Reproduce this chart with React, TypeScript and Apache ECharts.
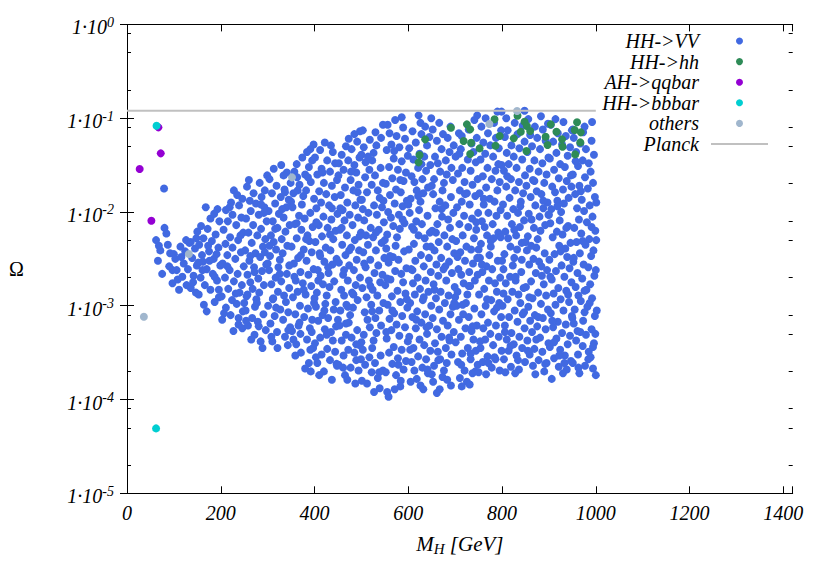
import React, { useEffect, useRef } from "react";
import * as echarts from "echarts";

// Axis ranges
const massMin = 0;
const massMax = 1420;
const massTickStep = 200;
const omegaMin = 1e-5;
const omegaMax = 1;
const omegaMinorTicks = [
  2e-5, 5e-5, 8e-5, 2e-4, 5e-4, 8e-4, 2e-3, 5e-3, 8e-3, 2e-2, 5e-2, 8e-2, 2e-1, 5e-1, 8e-1,
];

// Planck relic density line
const planckOmega = 0.1199;
const planckMassRange = [0, 1000];

// Points: [M_H in GeV, log10(Omega)]
const hhToVV: [number, number][] = [
  [62,-2.30],[66,-2.52],[71,-2.41],[75,-2.66],[79,-1.75],[80,-2.17],[84,-2.23],[87,-2.35],[92,-2.44],[97,-2.62],[97,-2.76],[100,-2.45],[90,-2.58],[68,-2.36],
  [103,-2.50],[108,-2.72],[111,-2.83],[114,-2.37],[118,-2.69],[121,-2.55],[124,-2.42],[127,-2.78],[130,-2.61],[133,-2.33],[136,-2.32],[136,-2.81],[139,-2.49],[142,-2.68],[145,-2.39],[147,-2.86],[149,-2.57],[106,-2.62],[116,-2.48],[126,-2.30],[141,-2.75],[148,-2.28],
  [168,-1.95],[193,-1.97],[178,-2.07],[186,-2.02],[158,-2.15],[197,-2.10],[172,-2.18],[150,-2.21],[189,-2.24],[163,-2.28],[181,-2.31],[154,-2.35],[195,-2.38],[175,-2.42],[160,-2.46],[185,-2.50],[152,-2.54],[199,-2.57],[170,-2.61],[183,-2.66],[157,-2.70],[192,-2.73],[166,-2.78],[178,-2.83],[153,-2.88],[196,-2.91],[164,-2.99],[170,-3.06],[187,-2.96],[176,-2.52],[161,-2.62],[191,-2.45],
  [228,-1.77],[235,-1.82],[246,-1.86],[222,-1.90],[239,-1.93],[211,-1.98],[225,-2.03],[244,-2.06],[215,-2.10],[233,-2.14],[206,-2.19],[248,-2.22],[220,-2.27],[237,-2.30],[210,-2.34],[225,-2.38],[243,-2.43],[214,-2.46],[231,-2.50],[204,-2.55],[249,-2.58],[219,-2.62],[236,-2.66],[209,-2.70],[228,-2.74],[245,-2.78],[216,-2.82],[240,-2.86],[202,-2.90],[224,-2.94],[234,-2.98],[211,-3.02],[247,-3.06],[221,-3.10],[203,-3.15],[238,-3.20],[227,-3.27],[246,-3.24],
  [299,-1.61],[260,-1.66],[283,-1.69],[256,-1.73],[294,-1.77],[270,-1.80],[287,-1.84],[262,-1.88],[275,-1.91],[293,-1.95],[264,-1.99],[281,-2.03],[254,-2.07],[298,-2.10],[269,-2.14],[286,-2.18],[259,-2.22],[278,-2.25],[295,-2.29],[266,-2.33],[290,-2.37],[252,-2.41],[274,-2.44],[284,-2.48],[261,-2.52],[297,-2.56],[271,-2.59],[288,-2.63],[257,-2.67],[280,-2.71],[263,-2.75],[292,-2.78],[268,-2.82],[282,-2.86],[255,-2.90],[276,-2.93],[250,-2.97],[273,-3.01],[253,-3.05],[291,-3.09],[267,-3.13],[279,-3.17],[258,-3.21],[296,-3.26],[272,-3.31],[285,-3.38],[289,-3.45],[265,-3.36],
  [329,-1.50],[313,-1.54],[341,-1.58],[334,-1.61],[304,-1.65],[349,-1.69],[319,-1.72],[336,-1.76],[309,-1.80],[328,-1.84],[345,-1.87],[316,-1.91],[340,-1.95],[302,-1.99],[324,-2.02],[334,-2.06],[311,-2.10],[347,-2.14],[321,-2.17],[338,-2.21],[307,-2.25],[330,-2.29],[313,-2.32],[342,-2.36],[318,-2.40],[332,-2.44],[305,-2.47],[326,-2.51],[300,-2.55],[323,-2.59],[303,-2.62],[341,-2.66],[317,-2.70],[329,-2.74],[308,-2.77],[346,-2.81],[322,-2.85],[335,-2.89],[312,-2.92],[339,-2.96],[301,-3.00],[327,-3.04],[344,-3.07],[315,-3.11],[333,-3.15],[306,-3.19],[348,-3.23],[320,-3.28],[337,-3.33],[310,-3.38],[321,-3.45],[343,-3.42],
  [398,-1.28],[391,-1.33],[384,-1.36],[374,-1.42],[395,-1.45],[362,-1.49],[388,-1.52],[357,-1.57],[380,-1.60],[363,-1.63],[392,-1.68],[368,-1.71],[382,-1.77],[355,-1.80],[376,-1.83],[350,-1.89],[373,-1.92],[353,-1.95],[391,-2.01],[367,-2.04],[379,-2.07],[358,-2.13],[396,-2.16],[372,-2.19],[385,-2.25],[362,-2.28],[389,-2.31],[351,-2.37],[377,-2.40],[394,-2.43],[365,-2.49],[383,-2.52],[356,-2.55],[398,-2.61],[370,-2.64],[387,-2.67],[360,-2.73],[375,-2.76],[393,-2.79],[364,-2.85],[381,-2.88],[354,-2.91],[399,-2.97],[369,-3.00],[386,-3.03],[359,-3.09],[378,-3.12],[395,-3.15],[366,-3.21],[390,-3.24],[352,-3.27],[370,-3.30],[384,-3.36],[361,-3.41],[397,-3.45],[371,-3.50],[359,-3.53],[388,-3.61],[380,-3.67],[392,-3.70],
  [422,-1.26],[435,-1.29],[412,-1.34],[439,-1.36],[401,-1.42],[427,-1.45],[444,-1.48],[415,-1.54],[433,-1.57],[406,-1.60],[448,-1.66],[420,-1.69],[437,-1.72],[410,-1.78],[425,-1.81],[443,-1.84],[414,-1.90],[431,-1.93],[404,-1.96],[449,-2.02],[419,-2.05],[436,-2.08],[409,-2.14],[428,-2.17],[445,-2.20],[416,-2.26],[440,-2.29],[402,-2.32],[424,-2.38],[434,-2.41],[411,-2.44],[447,-2.50],[421,-2.53],[438,-2.56],[407,-2.62],[430,-2.65],[413,-2.68],[442,-2.74],[418,-2.77],[432,-2.80],[405,-2.86],[426,-2.89],[400,-2.92],[423,-2.98],[403,-3.01],[441,-3.04],[417,-3.10],[429,-3.13],[408,-3.16],[446,-3.22],[422,-3.25],[435,-3.28],[412,-3.34],[439,-3.37],[401,-3.40],[427,-3.46],[444,-3.49],[415,-3.52],[433,-3.58],[406,-3.61],[448,-3.64],[420,-3.70],[437,-3.79],[410,-3.74],
  [497,-1.14],[485,-1.17],[473,-1.22],[491,-1.25],[467,-1.30],[479,-1.33],[458,-1.39],[496,-1.42],[472,-1.45],[485,-1.50],[462,-1.55],[489,-1.58],[451,-1.61],[477,-1.66],[494,-1.71],[465,-1.74],[483,-1.77],[456,-1.82],[498,-1.87],[470,-1.90],[487,-1.93],[460,-1.98],[475,-2.03],[493,-2.06],[464,-2.09],[481,-2.14],[454,-2.19],[499,-2.22],[469,-2.25],[486,-2.30],[459,-2.35],[478,-2.38],[495,-2.41],[466,-2.46],[490,-2.51],[452,-2.54],[474,-2.57],[484,-2.62],[461,-2.67],[497,-2.70],[471,-2.73],[488,-2.78],[457,-2.83],[480,-2.86],[463,-2.89],[492,-2.94],[468,-2.99],[482,-3.02],[455,-3.05],[476,-3.10],[450,-3.15],[473,-3.18],[453,-3.21],[491,-3.26],[467,-3.31],[479,-3.34],[458,-3.37],[496,-3.42],[472,-3.47],[485,-3.50],[462,-3.53],[489,-3.58],[451,-3.63],[477,-3.66],[494,-3.69],[465,-3.74],[487,-3.83],[470,-3.79],
  [546,-1.07],[503,-1.13],[530,-1.15],[542,-1.21],[518,-1.23],[532,-1.29],[505,-1.31],[526,-1.37],[500,-1.39],[523,-1.45],[509,-1.47],[541,-1.53],[517,-1.55],[529,-1.61],[508,-1.63],[546,-1.69],[522,-1.71],[535,-1.77],[512,-1.79],[539,-1.85],[501,-1.87],[527,-1.93],[544,-1.95],[515,-2.01],[533,-2.03],[506,-2.09],[548,-2.11],[520,-2.17],[537,-2.19],[510,-2.25],[525,-2.27],[543,-2.33],[514,-2.35],[531,-2.41],[504,-2.43],[549,-2.49],[519,-2.51],[536,-2.57],[509,-2.59],[528,-2.65],[545,-2.67],[516,-2.73],[540,-2.75],[502,-2.81],[524,-2.83],[534,-2.89],[511,-2.91],[547,-2.97],[521,-2.99],[538,-3.05],[507,-3.07],[530,-3.13],[513,-3.15],[542,-3.21],[518,-3.23],[532,-3.29],[505,-3.31],[526,-3.37],[500,-3.39],[523,-3.45],[503,-3.47],[541,-3.53],[517,-3.55],[529,-3.61],[508,-3.63],[546,-3.69],[522,-3.71],[535,-3.77],[512,-3.83],[539,-3.88],[501,-3.80],[527,-3.92],
  [586,-0.99],[572,-1.02],[556,-1.07],[589,-1.10],[560,-1.16],[575,-1.19],[593,-1.22],[564,-1.28],[581,-1.31],[554,-1.34],[599,-1.40],[569,-1.43],[586,-1.46],[559,-1.52],[578,-1.55],[595,-1.58],[566,-1.64],[590,-1.67],[552,-1.70],[574,-1.76],[584,-1.79],[561,-1.82],[597,-1.88],[571,-1.91],[588,-1.94],[557,-2.00],[580,-2.03],[563,-2.06],[592,-2.12],[568,-2.15],[582,-2.18],[555,-2.24],[576,-2.27],[550,-2.30],[573,-2.36],[553,-2.39],[591,-2.42],[567,-2.48],[579,-2.51],[558,-2.54],[596,-2.60],[572,-2.63],[585,-2.66],[562,-2.72],[589,-2.75],[551,-2.78],[577,-2.84],[594,-2.87],[565,-2.90],[583,-2.96],[556,-2.99],[598,-3.02],[570,-3.08],[587,-3.11],[560,-3.14],[575,-3.20],[593,-3.23],[564,-3.26],[581,-3.32],[554,-3.35],[599,-3.38],[569,-3.44],[586,-3.47],[559,-3.50],[578,-3.56],[595,-3.59],[566,-3.62],[590,-3.68],[552,-3.71],[574,-3.74],[584,-3.80],[555,-3.92],[558,-3.97],[583,-3.86],[571,-3.89],
  [622,-0.97],[649,-1.00],[626,-1.05],[636,-1.09],[609,-1.14],[628,-1.17],[645,-1.20],[616,-1.26],[640,-1.29],[602,-1.32],[624,-1.38],[634,-1.41],[611,-1.44],[647,-1.50],[621,-1.53],[638,-1.56],[607,-1.62],[630,-1.65],[613,-1.68],[642,-1.74],[618,-1.77],[632,-1.80],[605,-1.86],[626,-1.89],[600,-1.92],[623,-1.98],[603,-2.01],[641,-2.04],[617,-2.10],[629,-2.13],[608,-2.16],[646,-2.22],[622,-2.25],[635,-2.28],[612,-2.34],[639,-2.37],[601,-2.40],[627,-2.46],[644,-2.49],[615,-2.52],[633,-2.58],[606,-2.61],[648,-2.64],[620,-2.70],[637,-2.73],[610,-2.76],[625,-2.82],[643,-2.85],[614,-2.88],[631,-2.94],[604,-2.97],[649,-3.00],[619,-3.06],[636,-3.09],[609,-3.12],[628,-3.18],[645,-3.21],[616,-3.24],[640,-3.30],[602,-3.33],[624,-3.36],[634,-3.42],[611,-3.45],[647,-3.48],[621,-3.54],[638,-3.57],[607,-3.60],[630,-3.66],[613,-3.69],[642,-3.72],[618,-3.78],[626,-3.85],[605,-3.81],[632,-3.89],
  [666,-1.05],[690,-1.09],[652,-1.12],[674,-1.17],[684,-1.21],[661,-1.24],[697,-1.29],[671,-1.33],[688,-1.36],[657,-1.41],[680,-1.45],[663,-1.48],[692,-1.53],[668,-1.57],[682,-1.60],[655,-1.65],[676,-1.69],[650,-1.72],[673,-1.77],[653,-1.81],[691,-1.84],[667,-1.89],[679,-1.93],[658,-1.96],[696,-2.01],[672,-2.05],[685,-2.08],[662,-2.13],[689,-2.17],[651,-2.20],[677,-2.25],[694,-2.29],[665,-2.32],[683,-2.37],[656,-2.41],[698,-2.44],[670,-2.49],[687,-2.53],[660,-2.56],[675,-2.61],[693,-2.65],[664,-2.68],[681,-2.73],[654,-2.77],[699,-2.80],[669,-2.85],[686,-2.89],[659,-2.92],[678,-2.97],[695,-3.01],[666,-3.04],[690,-3.09],[652,-3.13],[674,-3.16],[684,-3.21],[661,-3.25],[697,-3.28],[671,-3.33],[688,-3.37],[657,-3.40],[680,-3.45],[663,-3.49],[692,-3.52],[668,-3.57],[682,-3.61],[655,-3.64],[676,-3.69],[650,-3.73],[673,-3.76],[653,-3.81],[691,-3.85],[661,-3.93],[667,-3.89],
  [747,-0.97],[741,-1.02],[729,-1.12],[708,-1.16],[746,-1.21],[714,-1.19],[735,-1.27],[712,-1.33],[739,-1.36],[701,-1.41],[727,-1.44],[744,-1.47],[715,-1.53],[733,-1.56],[706,-1.59],[748,-1.65],[720,-1.68],[737,-1.71],[710,-1.77],[725,-1.80],[743,-1.83],[714,-1.89],[731,-1.92],[704,-1.95],[749,-2.01],[719,-2.04],[736,-2.07],[709,-2.13],[728,-2.16],[745,-2.19],[716,-2.25],[740,-2.28],[702,-2.31],[724,-2.37],[734,-2.40],[711,-2.43],[747,-2.49],[721,-2.52],[738,-2.55],[707,-2.61],[730,-2.64],[713,-2.67],[742,-2.73],[718,-2.76],[732,-2.79],[705,-2.85],[726,-2.88],[700,-2.91],[723,-2.97],[703,-3.00],[741,-3.03],[717,-3.09],[729,-3.12],[708,-3.15],[746,-3.21],[722,-3.24],[735,-3.27],[712,-3.33],[739,-3.36],[701,-3.39],[727,-3.45],[744,-3.48],[715,-3.51],[733,-3.57],[706,-3.60],[748,-3.63],[720,-3.69],[737,-3.72],[710,-3.77],[725,-3.81],[743,-3.70],[714,-3.86],[731,-3.84],
  [790,-0.93],[799,-0.93],[765,-1.00],[783,-1.05],[756,-1.09],[798,-1.13],[770,-1.16],[787,-1.21],[760,-1.26],[775,-1.29],[793,-1.32],[764,-1.38],[781,-1.41],[754,-1.44],[799,-1.50],[769,-1.53],[786,-1.56],[759,-1.62],[778,-1.65],[795,-1.68],[766,-1.74],[790,-1.77],[752,-1.80],[774,-1.86],[784,-1.89],[761,-1.92],[797,-1.98],[771,-2.01],[788,-2.04],[757,-2.10],[780,-2.13],[763,-2.16],[792,-2.22],[768,-2.25],[782,-2.28],[755,-2.34],[776,-2.37],[750,-2.40],[773,-2.46],[753,-2.49],[791,-2.52],[767,-2.58],[779,-2.61],[758,-2.64],[796,-2.70],[772,-2.73],[785,-2.76],[762,-2.82],[789,-2.85],[751,-2.88],[777,-2.94],[794,-2.97],[765,-3.00],[783,-3.06],[756,-3.09],[798,-3.12],[770,-3.18],[787,-3.21],[760,-3.24],[775,-3.30],[793,-3.33],[764,-3.36],[781,-3.42],[754,-3.45],[799,-3.48],[769,-3.54],[786,-3.57],[759,-3.60],[778,-3.66],[795,-3.69],[766,-3.73],[750,-3.71],
  [848,-0.92],[809,-1.00],[827,-1.05],[844,-1.08],[812,-1.13],[833,-1.17],[806,-1.20],[848,-1.25],[820,-1.29],[837,-1.32],[810,-1.37],[825,-1.41],[843,-1.44],[814,-1.49],[831,-1.53],[804,-1.56],[849,-1.61],[819,-1.65],[836,-1.68],[809,-1.73],[828,-1.77],[845,-1.80],[816,-1.85],[840,-1.89],[802,-1.92],[824,-1.97],[834,-2.01],[811,-2.04],[847,-2.09],[821,-2.13],[838,-2.16],[807,-2.21],[830,-2.25],[813,-2.28],[842,-2.33],[818,-2.37],[832,-2.40],[805,-2.45],[826,-2.49],[800,-2.52],[823,-2.57],[803,-2.61],[841,-2.64],[817,-2.69],[829,-2.73],[808,-2.76],[846,-2.81],[822,-2.85],[835,-2.88],[812,-2.93],[839,-2.97],[801,-3.00],[827,-3.05],[844,-3.09],[815,-3.12],[833,-3.17],[806,-3.21],[848,-3.24],[820,-3.29],[837,-3.33],[810,-3.36],[825,-3.41],[843,-3.45],[814,-3.48],[831,-3.53],[804,-3.57],[849,-3.60],[819,-3.65],[836,-3.68],[807,-3.71],[828,-3.72],
  [883,-0.98],[856,-1.01],[898,-1.06],[870,-1.09],[887,-1.12],[860,-1.18],[875,-1.21],[893,-1.24],[864,-1.30],[881,-1.33],[854,-1.36],[899,-1.42],[869,-1.45],[886,-1.48],[859,-1.54],[878,-1.57],[895,-1.60],[866,-1.66],[890,-1.69],[852,-1.72],[874,-1.78],[884,-1.81],[861,-1.84],[897,-1.90],[871,-1.93],[888,-1.96],[857,-2.02],[880,-2.05],[863,-2.08],[892,-2.14],[868,-2.17],[882,-2.20],[855,-2.26],[876,-2.29],[850,-2.32],[873,-2.38],[853,-2.41],[891,-2.44],[867,-2.50],[879,-2.53],[858,-2.56],[896,-2.62],[872,-2.65],[885,-2.68],[862,-2.74],[889,-2.77],[851,-2.80],[877,-2.86],[894,-2.89],[865,-2.92],[883,-2.98],[856,-3.01],[898,-3.04],[870,-3.10],[887,-3.13],[860,-3.16],[875,-3.22],[893,-3.25],[864,-3.28],[881,-3.34],[854,-3.37],[899,-3.40],[869,-3.46],[886,-3.49],[859,-3.52],[878,-3.58],[895,-3.61],[866,-3.64],[890,-3.70],[871,-3.73],
  [914,-1.01],[931,-1.04],[904,-1.07],[949,-1.13],[919,-1.16],[936,-1.19],[909,-1.25],[928,-1.28],[945,-1.31],[916,-1.37],[940,-1.40],[902,-1.43],[924,-1.49],[934,-1.52],[911,-1.55],[947,-1.61],[921,-1.64],[938,-1.67],[907,-1.73],[930,-1.76],[913,-1.79],[942,-1.85],[918,-1.88],[932,-1.91],[905,-1.97],[926,-2.00],[900,-2.03],[923,-2.09],[903,-2.12],[941,-2.15],[917,-2.21],[929,-2.24],[908,-2.27],[946,-2.33],[922,-2.36],[935,-2.39],[912,-2.45],[939,-2.48],[901,-2.51],[927,-2.57],[944,-2.60],[915,-2.63],[933,-2.69],[906,-2.72],[948,-2.75],[920,-2.81],[937,-2.84],[910,-2.87],[925,-2.93],[943,-2.96],[914,-2.99],[931,-3.05],[904,-3.08],[949,-3.11],[919,-3.17],[936,-3.20],[909,-3.23],[928,-3.29],[945,-3.32],[916,-3.35],[940,-3.41],[902,-3.44],[924,-3.47],[934,-3.53],[911,-3.56],[947,-3.59],[921,-3.65],[938,-3.68],[906,-3.78],[930,-3.72],
  [992,-1.04],[976,-1.09],[951,-1.12],[973,-1.15],[953,-1.21],[991,-1.24],[967,-1.27],[979,-1.33],[958,-1.36],[996,-1.39],[972,-1.45],[985,-1.48],[962,-1.51],[989,-1.57],[951,-1.60],[977,-1.63],[994,-1.69],[965,-1.72],[983,-1.75],[956,-1.81],[998,-1.84],[970,-1.87],[987,-1.93],[960,-1.96],[975,-1.99],[993,-2.05],[964,-2.08],[981,-2.11],[954,-2.17],[999,-2.20],[969,-2.23],[986,-2.29],[959,-2.32],[978,-2.35],[995,-2.41],[966,-2.44],[990,-2.47],[952,-2.53],[974,-2.56],[984,-2.59],[961,-2.65],[997,-2.68],[971,-2.71],[988,-2.77],[957,-2.80],[980,-2.83],[963,-2.89],[992,-2.92],[968,-2.95],[982,-3.01],[955,-3.04],[976,-3.07],[950,-3.13],[973,-3.16],[953,-3.19],[991,-3.25],[967,-3.28],[979,-3.31],[958,-3.37],[996,-3.40],[972,-3.43],[985,-3.49],[962,-3.52],[989,-3.55],[951,-3.61],[977,-3.64],[994,-3.67],[965,-3.72],[1000,-3.74],[1001,-1.90],[1000,-2.62],[1002,-3.05],[999,-3.30],[1001,-2.30],
  [263,-2.47],[281,-3.22],[292,-2.01],[257,-2.88],[304,-2.36],[318,-3.02],[337,-1.79],[346,-2.57],[311,-2.93],[355,-3.36],[362,-2.12],[377,-2.83],[386,-1.63],[394,-3.28],[371,-2.46],[408,-2.73],[417,-1.58],[426,-3.31],[433,-2.24],[445,-2.96],[403,-3.55],[452,-1.48],[461,-3.66],[474,-2.41],[483,-2.88],[492,-1.79],[458,-2.17],[467,-3.19],[499,-3.57],[506,-2.55],
  [514,-1.41],[523,-3.06],[531,-2.22],[538,-3.71],[547,-1.88],[519,-2.79],[503,-1.97],[553,-3.28],[561,-2.47],[570,-1.35],[579,-3.63],[588,-2.08],[597,-2.93],[566,-3.05],[583,-1.66],[555,-2.71],[604,-3.47],[612,-2.19],[621,-1.83],[633,-2.91],[641,-3.68],[648,-2.37],[617,-3.15],[628,-1.49],[609,-2.62],[639,-3.23],[656,-2.83],[664,-3.58],[671,-1.97],[679,-2.58],
  [687,-3.34],[695,-1.66],[659,-2.22],[683,-3.79],[698,-2.97],[705,-2.48],[713,-3.63],[721,-1.81],[729,-2.79],[737,-3.22],[745,-2.11],[709,-1.38],[733,-3.51],[716,-2.99],[748,-2.67],[753,-3.38],[761,-1.86],[768,-2.93],[776,-2.31],[784,-3.55],[792,-1.49],[757,-2.56],[789,-3.02],[771,-3.61],[797,-2.27],[803,-2.87],[811,-1.62],[818,-3.43],[826,-2.19],[834,-3.58],
  [842,-2.51],[806,-3.28],[839,-1.94],[847,-3.07],[829,-2.69],[855,-3.48],[862,-2.36],[869,-1.67],[877,-3.12],[884,-2.58],[892,-3.62],[899,-2.03],[858,-2.91],[873,-3.36],[888,-1.88],[903,-2.69],[911,-3.39],[918,-1.94],[925,-2.42],[933,-3.61],[941,-2.88],[948,-1.73],[907,-3.16],[937,-2.17],[922,-3.53],[953,-2.49],[961,-3.27],[968,-1.78],[976,-2.84],[984,-3.57],
  [991,-2.16],[998,-3.11],[957,-1.46],[972,-2.31],[987,-2.97],[994,-3.44],[963,-3.66],[187,-2.69],[173,-2.36],[196,-2.83],[162,-2.53],[214,-2.58],[232,-2.87],[242,-2.25],[207,-3.08],[219,-1.95],[238,-3.13],[272,-2.64],[286,-1.92],[254,-3.16],[277,-2.97],[294,-2.43],[326,-2.66],[308,-3.33],[331,-1.97],[344,-3.26],[316,-2.18],[357,-2.69],[368,-3.18],[382,-2.29],
  [399,-1.86],[391,-3.47],[364,-1.77],[412,-2.47],[421,-3.05],[437,-1.96],[447,-3.62],[429,-2.59],[404,-2.11],[463,-2.62],[478,-1.57],[489,-3.41],[496,-2.26],[471,-3.01],[455,-1.96],
];

const hhToHh: [number, number][] = [
  [691,-1.102],[725,-1.066],[732,-1.119],[718,-1.244],[734,-1.262],[752,-1.322],[732,-1.382],[636,-1.226],[624,-1.393],[622,-1.471],
  [784,-1.012],[795,-1.190],[786,-1.294],[825,-1.215],[833,-0.974],[848,-1.038],[853,-1.084],[860,-1.137],[840,-1.145],[852,-1.350],
  [893,-1.198],[897,-1.286],[904,-1.066],[916,-1.145],[928,-1.226],[929,-1.305],[960,-1.044],[955,-1.126],[968,-1.151],[967,-1.258],[956,-1.386],
];

const ahToQQbar: [number, number][] = [
  [67,-1.098],[72,-1.375],[27,-1.542],[52,-2.094],
];

const hhToBBbar: [number, number][] = [
  [63,-1.081],[62,-4.308],
];

const otherChannels: [number, number][] = [
  [36,-3.118],[132,-2.449],[352,-1.631],[773,-1.062],[832,-0.924],
];

const toOmega = (pts: [number, number][]) => pts.map(([m, l]) => [m, Math.pow(10, l)]);

const serif = '"Liberation Serif", "DejaVu Serif", "Times New Roman", serif';

export default function App() {
  const ref = useRef<HTMLDivElement>(null);

  useEffect(() => {
    if (!ref.current) return;
    const chart = echarts.init(ref.current, undefined, { renderer: "svg" });

    const baseY = {
      type: "log" as const,
      logBase: 10,
      min: omegaMin,
      max: omegaMax,
      gridIndex: 0,
      splitLine: { show: false },
      minorTick: { show: false },
    };
    const baseX = {
      type: "value" as const,
      min: massMin,
      max: massMax,
      interval: massTickStep,
      gridIndex: 0,
      splitLine: { show: false },
    };
    const axisLine = { show: true, lineStyle: { color: "#000", width: 1 } };
    const majorTick = { show: true, inside: true, length: 7, lineStyle: { color: "#000", width: 1 } };
    const minorTickStyle = {
      show: true,
      inside: true,
      length: 4,
      customValues: omegaMinorTicks,
      lineStyle: { color: "#000", width: 1 },
    };

    const scatter = (name: string, color: string, pts: [number, number][]) => ({
      name,
      type: "scatter",
      xAxisIndex: 0,
      yAxisIndex: 0,
      symbol: "circle",
      symbolSize: 8,
      itemStyle: { color, opacity: 1 },
      data: toOmega(pts),
      silent: true,
    });

    chart.setOption({
      animation: false,
      backgroundColor: "#ffffff",
      grid: { left: 127, right: 37.3, top: 24.4, bottom: 87.7, containLabel: false },
      xAxis: [
        {
          ...baseX,
          position: "bottom",
          axisLine,
          axisTick: majorTick,
          axisLabel: {
            show: true,
            margin: 10,
            color: "#000",
            fontFamily: serif,
            fontStyle: "italic",
            fontSize: 20,
            formatter: (v: number) => (v > 1400 ? "" : String(v)),
          },
          name: "{m|M}{h|H}{m| [GeV]}",
          nameLocation: "middle",
          nameGap: 39,
          nameTextStyle: {
            rich: {
              m: { fontFamily: serif, fontStyle: "italic", fontSize: 21, color: "#000", lineHeight: 24 },
              h: { fontFamily: serif, fontStyle: "italic", fontSize: 15, color: "#000", lineHeight: 16, verticalAlign: "bottom" },
            },
          },
        },
        {
          ...baseX,
          position: "top",
          axisLine,
          axisTick: majorTick,
          axisLabel: { show: false },
        },
      ],
      yAxis: [
        {
          ...baseY,
          position: "left",
          axisLine,
          axisTick: majorTick,
          axisLabel: {
            show: true,
            margin: 13,
            padding: [6, 0, 0, 0],
            formatter: (v: number) => `{b|1·10}{s|${Math.round(Math.log10(v))}}`,
            rich: {
              b: { fontFamily: serif, fontStyle: "italic", fontSize: 20, color: "#000", lineHeight: 24 },
              s: { fontFamily: serif, fontStyle: "italic", fontSize: 14, color: "#000", lineHeight: 12, verticalAlign: "top" },
            },
          },
        },
        { ...baseY, position: "right", axisLine, axisTick: majorTick, axisLabel: { show: false } },
        { ...baseY, position: "left", axisLine: { show: false }, axisTick: minorTickStyle, axisLabel: { show: false } },
        { ...baseY, position: "right", axisLine: { show: false }, axisTick: minorTickStyle, axisLabel: { show: false } },
      ],
      legend: {
        orient: "vertical",
        right: 61,
        top: 30.5,
        padding: 0,
        align: "right",
        itemWidth: 57,
        itemHeight: 7,
        itemGap: -0.4,
        selectedMode: false,
        textStyle: {
          fontFamily: serif,
          fontStyle: "italic",
          fontSize: 20,
          lineHeight: 21,
          color: "#000",
          padding: [0, 7, 0, 0],
        },
        data: [
          { name: "HH->VV", icon: "circle" },
          { name: "HH->hh", icon: "circle" },
          { name: "AH->qqbar", icon: "circle" },
          { name: "HH->bbbar", icon: "circle" },
          { name: "others", icon: "circle" },
          { name: "Planck", itemStyle: { color: "rgba(0,0,0,0)", opacity: 0, borderWidth: 0 } },
        ],
      },
      graphic: [
        {
          type: "text",
          x: 16.5,
          y: 269,
          style: {
            text: "Ω",
            font: `20px ${serif}`,
            fill: "#000",
            align: "center",
            verticalAlign: "middle",
            textAlign: "center",
            textVerticalAlign: "middle",
          },
        },
      ],
      series: [
        scatter("HH->VV", "#4169e1", hhToVV),
        scatter("HH->hh", "#2e8b57", hhToHh),
        scatter("AH->qqbar", "#9400d3", ahToQQbar),
        scatter("HH->bbbar", "#00ced1", hhToBBbar),
        scatter("others", "#a0b6cd", otherChannels),
        {
          name: "Planck",
          type: "line",
          xAxisIndex: 0,
          yAxisIndex: 0,
          symbol: "none",
          showSymbol: false,
          lineStyle: { color: "#c0c0c0", width: 2 },
          itemStyle: { color: "#c0c0c0" },
          data: planckMassRange.map((m) => [m, planckOmega]),
          silent: true,
          z: 3,
        },
      ],
    });

    return () => chart.dispose();
  }, []);

  return (
    <div
      ref={ref}
      style={{ position: "fixed", left: 0, top: 0, width: 830, height: 581, background: "#fff" }}
    />
  );
}
